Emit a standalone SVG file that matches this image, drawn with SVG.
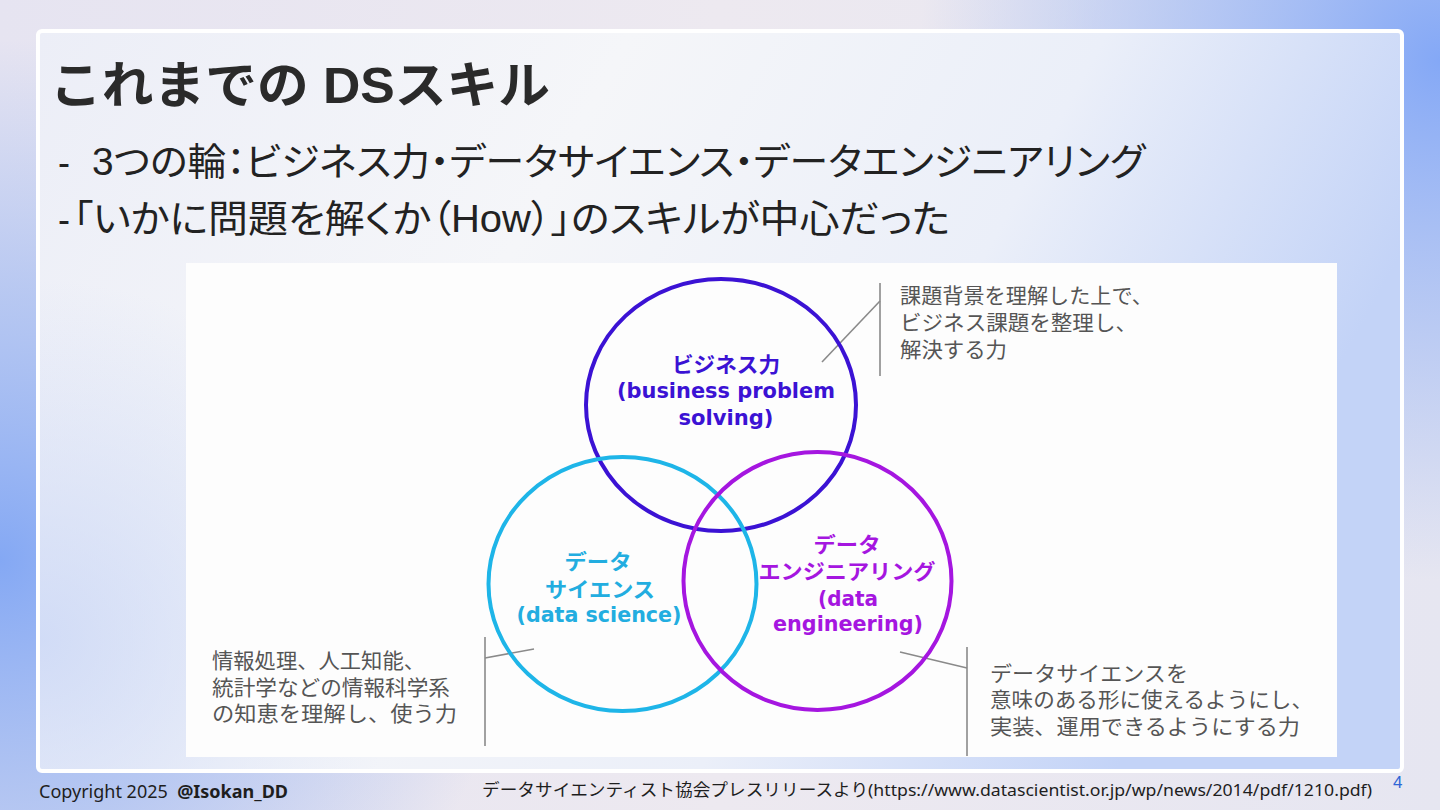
<svg xmlns="http://www.w3.org/2000/svg" width="1440" height="810" viewBox="0 0 1440 810">
<defs>
<linearGradient id="bg" x1="0" y1="0" x2="1" y2="0">
<stop offset="0" stop-color="#e6e4f1"/>
<stop offset="0.5" stop-color="#ede9f0"/>
<stop offset="1" stop-color="#e6e6f1"/>
</linearGradient>
<radialGradient id="bgL" gradientUnits="userSpaceOnUse" cx="0" cy="560" r="520">
<stop offset="0" stop-color="#84a8f4"/>
<stop offset="0.5" stop-color="#a2bbf2" stop-opacity="0.7"/>
<stop offset="1" stop-color="#a2bbf2" stop-opacity="0"/>
</radialGradient>
<radialGradient id="bgR" gradientUnits="userSpaceOnUse" cx="1440" cy="60" r="520">
<stop offset="0" stop-color="#84a8f6"/>
<stop offset="0.5" stop-color="#a5bdf4" stop-opacity="0.7"/>
<stop offset="1" stop-color="#a5bdf4" stop-opacity="0"/>
</radialGradient>
<linearGradient id="panel" x1="0" y1="0" x2="1" y2="0.3">
<stop offset="0" stop-color="#eceef7"/>
<stop offset="0.4" stop-color="#f5f6f9"/>
<stop offset="0.72" stop-color="#ebeff9"/>
<stop offset="1" stop-color="#c3d3f7"/>
</linearGradient>
<radialGradient id="panelL" gradientUnits="userSpaceOnUse" cx="40" cy="640" r="360">
<stop offset="0" stop-color="#c9d6f6" stop-opacity="0.8"/>
<stop offset="1" stop-color="#c9d6f6" stop-opacity="0"/>
</radialGradient>
<style>
.ttl{font-family:"Liberation Sans","Noto Sans CJK JP",sans-serif;font-weight:bold;fill:#2a2a2a}
.bul{font-family:"Liberation Sans","Noto Sans CJK JP",sans-serif;fill:#222;font-feature-settings:"palt"}
.lbl{font-family:"DejaVu Sans","Noto Sans CJK JP",sans-serif;font-weight:bold;text-anchor:middle;font-size:21px}
.note{font-family:"DejaVu Sans","Noto Sans CJK JP",sans-serif;fill:#555;font-size:21px}
.ln{stroke:#8a8a8a;stroke-width:1.6;fill:none}
.foot{font-family:"Noto Sans","Noto Sans CJK JP",sans-serif;fill:#1e1e1e}
</style>
</defs>
<rect width="1440" height="810" fill="url(#bg)"/>
<rect width="1440" height="810" fill="url(#bgL)"/>
<rect width="1440" height="810" fill="url(#bgR)"/>
<rect x="38" y="31" width="1364" height="740" rx="4" fill="url(#panel)"/>
<rect x="38" y="31" width="1364" height="740" rx="4" fill="url(#panelL)" stroke="#ffffff" stroke-width="4"/>

<text class="ttl" x="50" y="103" font-size="50" textLength="500" lengthAdjust="spacingAndGlyphs">これまでの DSスキル</text>
<text class="bul" x="58" y="175" font-size="36">-</text>
<text class="bul" x="92" y="175" font-size="38" textLength="1053" lengthAdjust="spacingAndGlyphs">3つの輪：ビジネス力・データサイエンス・データエンジニアリング</text>
<text class="bul" x="58" y="232" font-size="36">-</text>
<text class="bul" x="73" y="232" font-size="38" textLength="877" lengthAdjust="spacingAndGlyphs">「いかに問題を解くか（How）」のスキルが中心だった</text>

<rect x="186" y="263" width="1151" height="494" fill="#fdfdfd"/>

<g id="connectors">
<line class="ln" x1="880" y1="283" x2="880" y2="376"/>
<line class="ln" x1="822" y1="362" x2="880" y2="301"/>
<line class="ln" x1="485" y1="637" x2="485" y2="746"/>
<line class="ln" x1="485" y1="658" x2="534" y2="649"/>
<line class="ln" x1="967" y1="647" x2="967" y2="756"/>
<line class="ln" x1="900" y1="652" x2="967" y2="668"/>
</g>

<g id="business">
<ellipse cx="721" cy="405" rx="135" ry="126" fill="none" stroke="#3b12d4" stroke-width="4"/>
<text class="lbl" fill="#3b12d4" x="726" y="372" textLength="108" lengthAdjust="spacingAndGlyphs">ビジネス力</text>
<text class="lbl" fill="#3b12d4" x="726" y="398" textLength="218" lengthAdjust="spacingAndGlyphs">(business problem</text>
<text class="lbl" fill="#3b12d4" x="726" y="425" textLength="95" lengthAdjust="spacingAndGlyphs">solving)</text>
</g>
<g id="datascience">
<ellipse cx="622.5" cy="584" rx="134" ry="127" fill="none" stroke="#1eb5e8" stroke-width="4"/>
<text class="lbl" fill="#22ade0" x="598" y="569" textLength="67" lengthAdjust="spacingAndGlyphs">データ</text>
<text class="lbl" fill="#22ade0" x="600" y="597" textLength="110" lengthAdjust="spacingAndGlyphs">サイエンス</text>
<text class="lbl" fill="#22ade0" x="599" y="622" textLength="165" lengthAdjust="spacingAndGlyphs">(data science)</text>
</g>
<g id="dataengineering">
<ellipse cx="817.5" cy="581" rx="134" ry="129" fill="none" stroke="#a516e0" stroke-width="4"/>
<text class="lbl" fill="#a516e0" x="847" y="552" textLength="67" lengthAdjust="spacingAndGlyphs">データ</text>
<text class="lbl" fill="#a516e0" x="847" y="579" textLength="177" lengthAdjust="spacingAndGlyphs">エンジニアリング</text>
<text class="lbl" fill="#a516e0" x="848" y="606" textLength="60" lengthAdjust="spacingAndGlyphs">(data</text>
<text class="lbl" fill="#a516e0" x="848" y="631" textLength="150" lengthAdjust="spacingAndGlyphs">engineering)</text>
</g>

<g id="note-business">
<text class="note" x="900" y="303" textLength="253" lengthAdjust="spacingAndGlyphs">課題背景を理解した上で、</text>
<text class="note" x="900" y="330" textLength="237" lengthAdjust="spacingAndGlyphs">ビジネス課題を整理し、</text>
<text class="note" x="900" y="357" textLength="107" lengthAdjust="spacingAndGlyphs">解決する力</text>
</g>
<g id="note-ds">
<text class="note" x="212" y="668" textLength="213" lengthAdjust="spacingAndGlyphs">情報処理、人工知能、</text>
<text class="note" x="212" y="695" textLength="238" lengthAdjust="spacingAndGlyphs">統計学などの情報科学系</text>
<text class="note" x="212" y="721" textLength="245" lengthAdjust="spacingAndGlyphs">の知恵を理解し、使う力</text>
</g>
<g id="note-de">
<text class="note" x="990" y="681" textLength="198" lengthAdjust="spacingAndGlyphs">データサイエンスを</text>
<text class="note" x="990" y="707" textLength="323" lengthAdjust="spacingAndGlyphs">意味のある形に使えるようにし、</text>
<text class="note" x="990" y="734" textLength="310" lengthAdjust="spacingAndGlyphs">実装、運用できるようにする力</text>
</g>

<text class="foot" x="39" y="798" font-size="18" xml:space="preserve">Copyright 2025  <tspan font-weight="bold">@Isokan_DD</tspan></text>
<text class="foot" x="482" y="796" font-size="17" textLength="890" lengthAdjust="spacingAndGlyphs" font-family="'Liberation Sans','Noto Sans CJK JP',sans-serif">データサイエンティスト協会プレスリリースより(https://www.datascientist.or.jp/wp/news/2014/pdf/1210.pdf)</text>
<text x="1393" y="788" font-size="17" fill="#2f66d6" font-family="'Liberation Sans',sans-serif">4</text>
</svg>
